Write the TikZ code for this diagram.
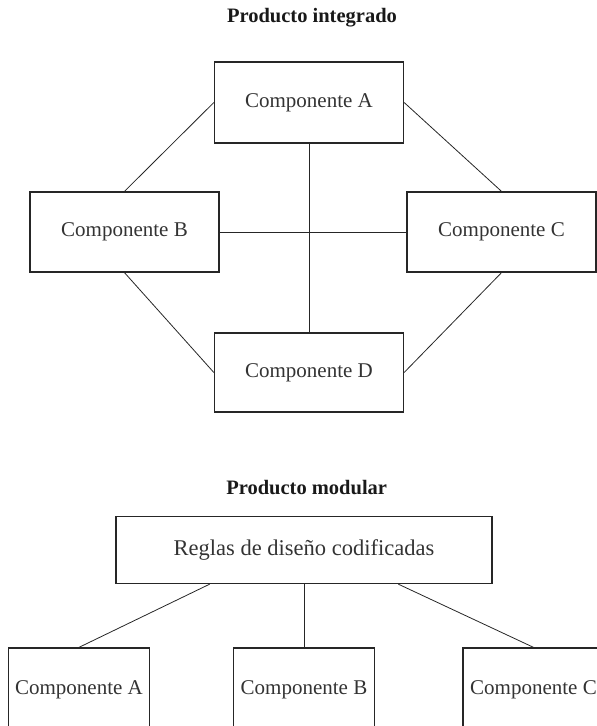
\documentclass[tikz,border=0pt]{standalone}
\usepackage{fontspec}
\setmainfont{Liberation Serif}
\usetikzlibrary{calc}
\begin{document}
\begin{tikzpicture}[x=1pt,y=-1pt,
  box/.style={draw=black!85,line width=1.3pt,inner sep=0pt,text=black!80,font=\fontsize{21}{25}\selectfont},
  bigbox/.style={box,minimum width=189pt},
  smallbox/.style={box,minimum width=141pt,minimum height=84pt},
  ttl/.style={font=\fontsize{20.5}{24}\selectfont\bfseries,text=black!90,inner sep=0pt},
  conn/.style={draw=black!85,line width=0.8pt}]
\clip (0,0) rectangle (597,726);
\useasboundingbox (0,0) rectangle (597,726);
\node[ttl] (t1) at (312,18) {Producto integrado};
\node[bigbox,minimum height=81pt] (A) at (309,102.5) {Componente A};
\node[bigbox,minimum height=80pt] (B) at (124.5,232) {Componente B};
\node[bigbox,minimum height=80pt] (C) at (501.5,232) {Componente C};
\node[bigbox,minimum height=79pt] (D) at (309,372.5) {Componente D};
\draw[conn] (A.west) -- (B.north);
\draw[conn] (A.east) -- (C.north);
\draw[conn] (B.south) -- (D.west);
\draw[conn] (C.south) -- (D.east);
\draw[conn] (A.south) -- (D.north);
\draw[conn] (B.east) -- (C.west);
\node[ttl] (t2) at (306.7,488) {Producto modular};
\node[box,minimum width=376pt,minimum height=67pt,font=\fontsize{22.5}{26}\selectfont] (R) at (304,550) {Reglas de diseño codificadas};
\node[smallbox] (mA) at (79,690) {Componente A};
\node[smallbox] (mB) at (304,690) {Componente B};
\node[smallbox] (mC) at (533.5,690) {Componente C};
\coordinate (r1) at ($(R.south west)!0.25!(R.south east)$);
\coordinate (r3) at ($(R.south west)!0.75!(R.south east)$);
\draw[conn] (r1) -- (mA.north);
\draw[conn] (R.south) -- (mB.north);
\draw[conn] (r3) -- (mC.north);
\end{tikzpicture}
\end{document}
